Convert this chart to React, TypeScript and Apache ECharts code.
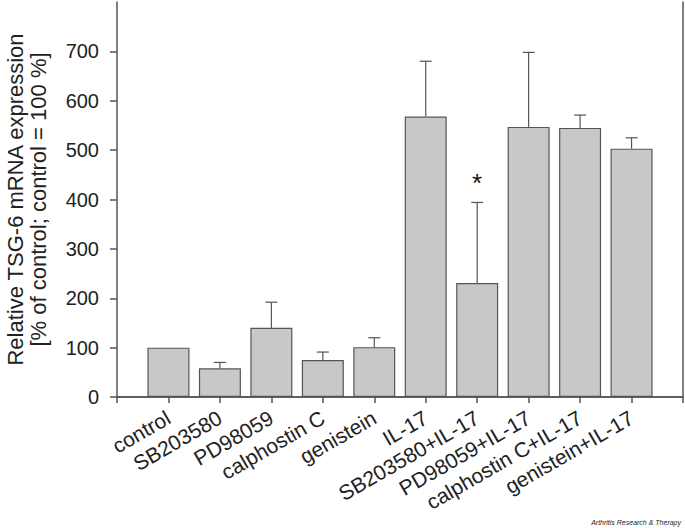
import React, { useEffect, useRef } from "react";
import * as echarts from "echarts";

const categories = [
  "control",
  "SB203580",
  "PD98059",
  "calphostin C",
  "genistein",
  "IL-17",
  "SB203580+IL-17",
  "PD98059+IL-17",
  "calphostin C+IL-17",
  "genistein+IL-17",
];
const means = [100, 58, 140, 75, 101, 568, 231, 547, 545, 503];
const errorTops = [100, 70, 192, 91, 120, 680, 394, 698, 571, 525];
const significance = ["", "", "", "", "", "", "*", "", "", ""];
const yTickValues = [0, 100, 200, 300, 400, 500, 600, 700];
const yMax = 800;

const FONT = "'Liberation Sans', Arial, Helvetica, sans-serif";
const AXIS = "#555555";
const TEXT = "#222222";

export default function App() {
  const ref = useRef<HTMLDivElement>(null);
  useEffect(() => {
    if (!ref.current) return;
    const chart = echarts.init(ref.current, undefined, { renderer: "svg" });
    const xData = ["", ...categories, ""];
    const barData: any[] = ["-", ...means, "-"];
    const errData = categories.map((_, i) => [i + 1, means[i], errorTops[i], i]);
    chart.setOption({
      animation: false,
      backgroundColor: "#ffffff",
      grid: {
        left: 117,
        right: 2,
        top: 2,
        bottom: 131,
        containLabel: false,
        outerBoundsMode: "none",
      },
      xAxis: [
        {
          type: "category",
          data: xData,
          boundaryGap: false,
          axisLine: { lineStyle: { color: AXIS, width: 1.5 } },
          axisTick: { show: true, length: 6, interval: 0, lineStyle: { color: AXIS, width: 1.5 } },
          axisLabel: {
            interval: 0,
            rotate: 30,
            margin: 19,
            fontSize: 21,
            color: TEXT,
            fontFamily: FONT,
          },
          splitLine: { show: false },
        },
        {
          type: "category",
          data: xData,
          position: "top",
          boundaryGap: false,
          axisLine: { show: true, lineStyle: { color: AXIS, width: 1.5 } },
          axisTick: { show: false },
          axisLabel: { show: false },
          splitLine: { show: false },
        },
      ],
      yAxis: [
        {
          type: "value",
          min: 0,
          max: yMax,
          interval: 100,
          name: "Relative TSG-6 mRNA expression\n[% of control; control = 100 %]",
          nameLocation: "middle",
          nameGap: 67,
          nameTextStyle: {
            fontSize: 22,
            lineHeight: 23,
            color: TEXT,
            fontFamily: FONT,
          },
          axisLine: { show: true, lineStyle: { color: AXIS, width: 1.5 } },
          axisTick: {
            show: true,
            length: 7,
            customValues: yTickValues,
            lineStyle: { color: AXIS, width: 1.5 },
          },
          axisLabel: {
            fontSize: 20,
            color: TEXT,
            fontFamily: FONT,
            margin: 18,
            customValues: yTickValues,
          },
          splitLine: { show: false },
        },
        {
          type: "value",
          min: 0,
          max: yMax,
          interval: 100,
          position: "right",
          axisLine: { show: true, lineStyle: { color: AXIS, width: 1.5 } },
          axisTick: { show: false },
          axisLabel: { show: false },
          splitLine: { show: false },
        },
      ],
      series: [
        {
          type: "bar",
          data: barData,
          barWidth: 42,
          itemStyle: { color: "#c8c8c8", borderColor: AXIS, borderWidth: 1.2 },
        },
        {
          type: "custom",
          data: errData,
          z: 1,
          renderItem: (params: any, api: any) => {
            const x = api.value(0);
            const m = api.value(1);
            const t = api.value(2);
            const idx = api.value(3);
            const p0 = api.coord([x, m]);
            const p1 = api.coord([x, t]);
            const cap = 6;
            const children: any[] = [];
            if (t > m) {
              children.push({
                type: "line",
                shape: { x1: p0[0], y1: p0[1], x2: p1[0], y2: p1[1] },
                style: { stroke: AXIS, lineWidth: 1.2 },
              });
              children.push({
                type: "line",
                shape: { x1: p1[0] - cap, y1: p1[1], x2: p1[0] + cap, y2: p1[1] },
                style: { stroke: AXIS, lineWidth: 1.2 },
              });
            }
            const sig = significance[idx];
            if (sig) {
              children.push({
                type: "text",
                style: {
                  text: sig,
                  x: p1[0],
                  y: p1[1] - 19,
                  align: "center",
                  verticalAlign: "middle",
                  fontSize: 26,
                  fontFamily: FONT,
                  fill: "#111111",
                },
              });
            }
            return { type: "group", children };
          },
        },
      ],
      graphic: [
        {
          type: "text",
          right: 4,
          bottom: 2,
          style: {
            text: "Arthritis Research & Therapy",
            fontSize: 7,
            fontStyle: "italic",
            fontFamily: FONT,
            fill: "#222222",
          },
        },
      ],
    });
    return () => chart.dispose();
  }, []);
  return (
    <div
      ref={ref}
      style={{ position: "absolute", left: 0, top: 0, width: 685, height: 528 }}
    />
  );
}
